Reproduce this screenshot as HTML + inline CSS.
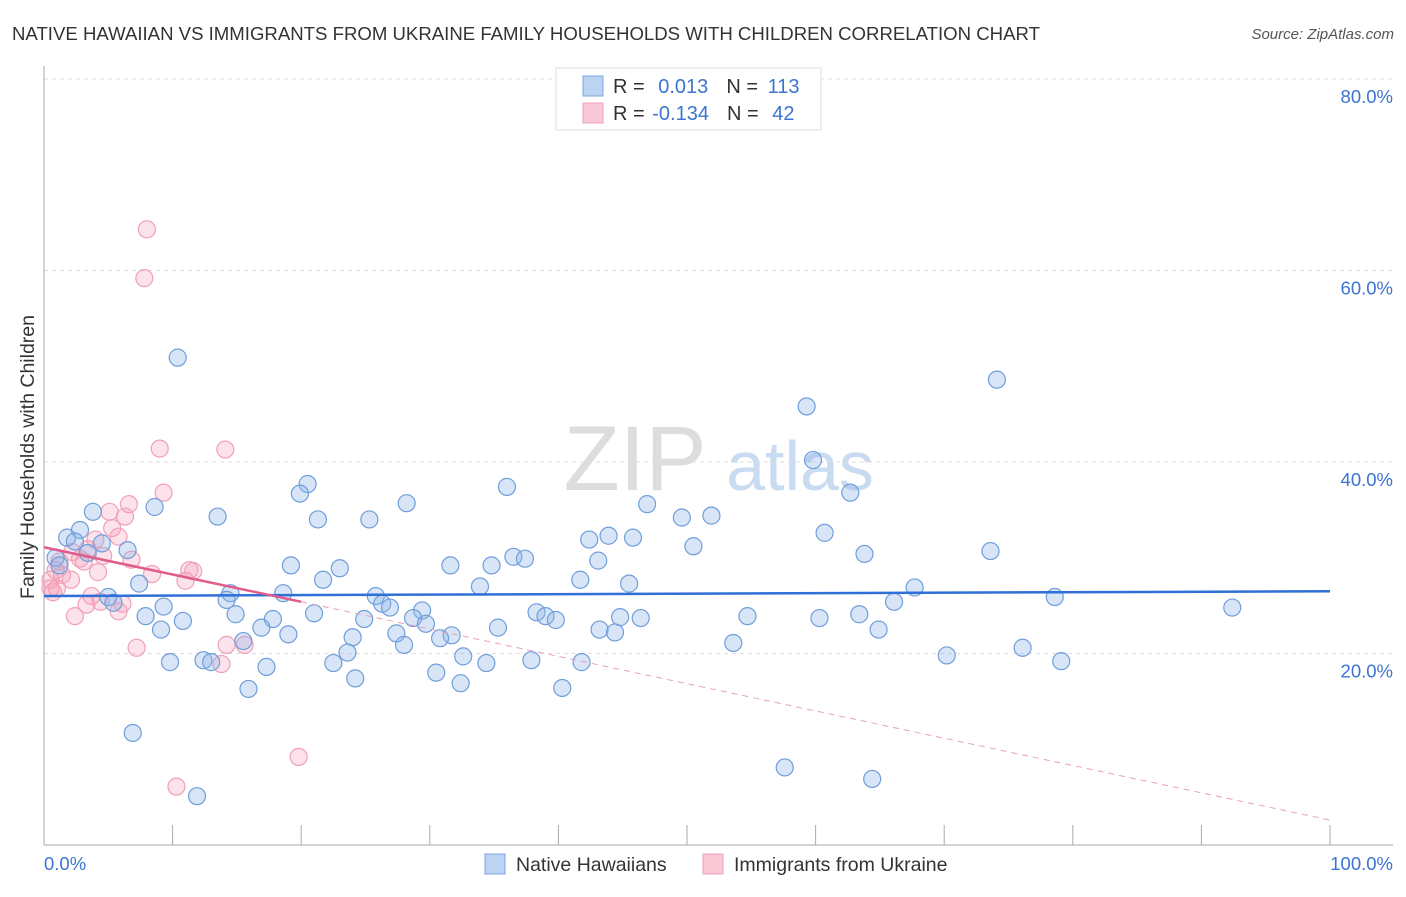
<!DOCTYPE html>
<html><head><meta charset="utf-8"><style>
body{margin:0;background:#fff;font-family:"Liberation Sans",sans-serif}
svg text{font-family:"Liberation Sans",sans-serif}
</style></head><body>
<svg id="chart" width="1406" height="892" xmlns="http://www.w3.org/2000/svg">
<text x="12" y="40" font-size="18.6" fill="#333">NATIVE HAWAIIAN VS IMMIGRANTS FROM UKRAINE FAMILY HOUSEHOLDS WITH CHILDREN CORRELATION CHART</text>
<text x="1394" y="39" font-size="15" fill="#555" text-anchor="end" font-style="italic">Source: ZipAtlas.com</text>
<g>
<text x="635" y="490" font-size="92" fill="#ddd" font-family="Liberation Serif" text-anchor="middle">ZIP</text>
<text x="800" y="490" font-size="70" fill="#c9dbf0" text-anchor="middle">atlas</text>
</g>
<g id="grid"></g>
<g id="axes"></g>
<g id="marks"></g>
<text transform="translate(34,457) rotate(-90)" font-size="19.5" fill="#333" text-anchor="middle">Family Households with Children</text>
<g>
<rect x="556" y="68" width="265" height="62" fill="#fff" stroke="#ddd"/>
<rect x="583" y="76" width="20" height="20" fill="#bcd3f2" stroke="#7aa6dd"/>
<rect x="583" y="103" width="20" height="20" fill="#f9c9d7" stroke="#f0a0b8"/>
<text x="613" y="93" font-size="20" fill="#333">R = <tspan fill="#3b74d1" dx="8">0.013</tspan><tspan dx="18">N = </tspan><tspan fill="#3b74d1" dx="4">113</tspan></text>
<text x="613" y="120" font-size="20" fill="#333">R = <tspan fill="#3b74d1" dx="2">-0.134</tspan><tspan dx="18">N = </tspan><tspan fill="#3b74d1" dx="8">42</tspan></text>
</g>
<g>
<rect x="485" y="854" width="20" height="20" fill="#bcd3f2" stroke="#7aa6dd"/>
<text x="516" y="871" font-size="19.5" fill="#333">Native Hawaiians</text>
<rect x="703" y="854" width="20" height="20" fill="#f9c9d7" stroke="#f0a0b8"/>
<text x="734" y="871" font-size="19.5" fill="#333">Immigrants from Ukraine</text>
</g>
</svg>
<script>
const yTicks=[20,40,60,80];
const yTickLabels=["20.0%","40.0%","60.0%","80.0%"];
const xTicks=[0,10,20,30,40,50,60,70,80,90,100];
const blueX=[10.4,74.1,59.3,59.8,36.0,62.7,20.5,19.9,28.2,8.6,3.8,13.5,21.3,25.3,46.9,49.6,51.9,60.7,1.8,2.8,4.5,2.4,6.5,3.4,43.9,42.4,45.8,50.5,73.6,63.8,36.5,37.4,34.8,31.6,43.1,19.2,23.0,0.9,1.2,41.7,45.5,33.9,21.7,7.4,67.7,78.6,14.5,18.6,25.8,5.0,5.4,14.2,26.3,26.9,29.4,9.3,7.9,14.9,17.8,21.0,24.9,38.3,39.0,39.8,28.7,29.7,44.8,46.4,54.7,60.3,63.4,66.1,92.4,10.8,9.1,16.9,19.0,15.5,24.0,27.4,31.7,35.3,30.8,43.2,44.4,64.9,28.0,23.6,53.6,76.1,70.2,79.1,32.6,9.8,12.4,13.0,17.3,22.5,34.4,37.9,41.8,30.5,24.2,32.4,15.9,40.3,6.9,57.6,64.4,11.9];
const blueY=[50.9,48.6,45.8,40.2,37.4,36.8,37.7,36.7,35.7,35.3,34.8,34.3,34.0,34.0,35.6,34.2,34.4,32.6,32.1,32.9,31.5,31.7,30.8,30.5,32.3,31.9,32.1,31.2,30.7,30.4,30.1,29.9,29.2,29.2,29.7,29.2,28.9,30.0,29.2,27.7,27.3,27.0,27.7,27.3,26.9,25.9,26.3,26.3,26.0,25.9,25.3,25.6,25.2,24.8,24.5,24.9,23.9,24.1,23.6,24.2,23.6,24.3,23.9,23.5,23.7,23.1,23.8,23.7,23.9,23.7,24.1,25.4,24.8,23.4,22.5,22.7,22.0,21.3,21.7,22.1,21.9,22.7,21.6,22.5,22.2,22.5,20.9,20.1,21.1,20.6,19.8,19.2,19.7,19.1,19.3,19.1,18.6,19.0,19.0,19.3,19.1,18.0,17.4,16.9,16.3,16.4,11.7,8.1,6.9,5.1];
const pinkX=[8.0,7.8,9.0,14.1,9.3,6.6,5.1,6.3,5.3,5.8,4.0,2.2,4.6,6.8,3.1,2.8,3.4,1.2,0.9,1.4,0.5,2.1,0.7,1.0,4.2,8.4,11.0,11.3,11.6,3.7,6.1,5.8,4.4,3.3,2.4,15.6,7.2,13.8,14.2,10.3,19.8,0.5];
const pinkY=[64.3,59.2,41.4,41.3,36.8,35.6,34.8,34.3,33.1,32.2,31.9,30.6,30.2,29.8,29.6,29.9,30.9,29.6,28.7,28.2,27.7,27.7,26.4,26.8,28.5,28.3,27.6,28.7,28.6,26.0,25.2,24.4,25.4,25.1,23.9,20.9,20.6,18.9,20.9,6.1,9.2,26.8];
const blueTrend=[26.0,26.5];
const pinkTrend=[31.1,2.6];
const pinkSolidEnd=20;
const NS="http://www.w3.org/2000/svg";
const sx=v=>44+v*12.86;
const sy=v=>845-v*9.575;
function mk(parent,tag,attrs){const e=document.createElementNS(NS,tag);for(const k in attrs)e.setAttribute(k,attrs[k]);document.getElementById(parent).appendChild(e);return e;}
yTicks.forEach((t,i)=>{
 let l=mk('grid','line',{x1:44,x2:1393,y1:sy(t),y2:sy(t),stroke:'#ddd','stroke-dasharray':'4,4'});
 
 
 let tx=mk('axes','text',{x:1393,y:sy(t)+24,'font-size':18.5,fill:'#3b74d1','text-anchor':'end'});
 tx.textContent=yTickLabels[i];
 
 
});
let topGrid=mk('grid','line',{x1:44,x2:1393,y1:79,y2:79,stroke:'#ddd','stroke-dasharray':'4,4'});


let ya=mk('axes','line',{x1:44,x2:44,y1:66,y2:845,stroke:'#aaa'});


let xa=mk('axes','line',{x1:44,x2:1393,y1:845,y2:845,stroke:'#aaa'});


xTicks.forEach(t=>{
 let l=mk('axes','line',{x1:sx(t),x2:sx(t),y1:825,y2:845,stroke:'#aaa'});
 
 
});
let xMinLbl=mk('axes','text',{x:44,y:870,'font-size':18.5,fill:'#3b74d1'});xMinLbl.textContent='0.0%';


let xMaxLbl=mk('axes','text',{x:1393,y:870,'font-size':18.5,fill:'#3b74d1','text-anchor':'end'});xMaxLbl.textContent='100.0%';


pinkX.forEach((v,i)=>{
 let c=mk('marks','circle',{cx:sx(v),cy:sy(pinkY[i]),r:8.5,fill:'rgba(244,160,186,0.3)',stroke:'#f0a0b8','stroke-width':1.2});
 
 
});
blueX.forEach((v,i)=>{
 let c=mk('marks','circle',{cx:sx(v),cy:sy(blueY[i]),r:8.5,fill:'rgba(140,180,232,0.35)',stroke:'#6f9edb','stroke-width':1.2});
 
 
});
let bt=mk('marks','line',{x1:sx(0),y1:sy(blueTrend[0]),x2:sx(100),y2:sy(blueTrend[1]),stroke:'#2f6fd6','stroke-width':2.5});


const pe=pinkTrend[0]+(pinkTrend[1]-pinkTrend[0])*pinkSolidEnd/100;
let pt=mk('marks','line',{x1:sx(0),y1:sy(pinkTrend[0]),x2:sx(pinkSolidEnd),y2:sy(pe),stroke:'#e05c8a','stroke-width':2.5});


let pd=mk('marks','line',{x1:sx(pinkSolidEnd),y1:sy(pe),x2:sx(100),y2:sy(pinkTrend[1]),stroke:'#e8a0b8','stroke-width':1,'stroke-dasharray':'6,5'});


</script>
</body></html>
